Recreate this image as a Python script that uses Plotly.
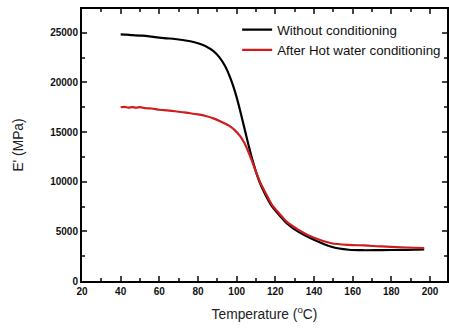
import plotly.graph_objects as go

temp_without = [40, 43, 46, 50, 53, 56, 60, 64, 68, 72, 76, 80, 84, 88, 91, 94, 97, 100, 102, 104, 106, 108, 110, 112, 115, 118, 122, 126, 132, 140, 149, 158, 166, 175, 185, 192, 197]
e_without = [24850, 24820, 24760, 24720, 24700, 24620, 24520, 24450, 24380, 24280, 24150, 23950, 23650, 23150, 22550, 21650, 20300, 18500, 17000, 15400, 13800, 12300, 11000, 9900, 8650, 7600, 6650, 5800, 4950, 4150, 3450, 3150, 3100, 3120, 3130, 3150, 3180]

temp_hot = [40, 42, 44, 46, 48, 50, 53, 56, 60, 64, 68, 72, 76, 80, 84, 88, 92, 96, 99, 102, 104, 106, 108, 110, 112, 115, 118, 122, 126, 132, 140, 149, 158, 166, 175, 185, 192, 197]
e_hot = [17500, 17540, 17460, 17520, 17450, 17520, 17400, 17380, 17250, 17180, 17100, 17000, 16900, 16780, 16620, 16380, 16050, 15650, 15200, 14550, 13900, 13050, 12050, 11000, 10000, 8850, 7750, 6800, 5950, 5150, 4350, 3800, 3630, 3580, 3480, 3400, 3350, 3320]

x_ticks = [20, 40, 60, 80, 100, 120, 140, 160, 180, 200]
y_ticks = [0, 5000, 10000, 15000, 20000, 25000]

fig = go.Figure()
fig.add_trace(go.Scatter(x=temp_without, y=e_without, mode="lines",
                         line=dict(color="black", width=2.2, shape="spline", smoothing=0.8),
                         name="Without conditioning"))
fig.add_trace(go.Scatter(x=temp_hot, y=e_hot, mode="lines",
                         line=dict(color="#d01c1c", width=2.2, shape="spline", smoothing=0.8),
                         name="After Hot water conditioning"))

font_family = "Liberation Sans, Arial, sans-serif"
fig.update_layout(
    width=449, height=329,
    margin=dict(l=82, r=0, t=9, b=48),
    paper_bgcolor="white", plot_bgcolor="white",
    font=dict(family=font_family, color="black"),
    showlegend=True,
    legend=dict(x=0.425, y=0.98, xanchor="left", yanchor="top",
                bgcolor="rgba(0,0,0,0)", font=dict(size=13.3, family=font_family, color="#111111"),
                tracegroupgap=0, itemwidth=30),
    xaxis=dict(range=[20, 208.8], tickvals=x_ticks, ticks="inside", ticklen=5, tickwidth=1.5,
               showline=True, linewidth=2, linecolor="black", mirror="allticks",
               showgrid=False, zeroline=False,
               minor=dict(dtick=10, ticks="inside", ticklen=3, tickwidth=1.5, tick0=0, showgrid=False),
               tickfont=dict(size=10, weight="bold", color="#111111"),
               title=dict(text="Temperature (<sup>o</sup>C)", font=dict(size=13.8, color="#222222"), standoff=13)),
    yaxis=dict(range=[0, 27400], tickvals=y_ticks, tickformat="d", ticks="inside", ticklen=5, tickwidth=1.5,
               showline=True, linewidth=2, linecolor="black", mirror="allticks",
               showgrid=False, zeroline=False,
               minor=dict(dtick=2500, ticks="inside", ticklen=3, tickwidth=1.5, tick0=0, showgrid=False),
               tickfont=dict(size=10, weight="bold", color="#111111"),
               title=dict(text="E' (MPa)", font=dict(size=13.8, color="#222222"), standoff=23)),
)

fig.write_html("out.html")
